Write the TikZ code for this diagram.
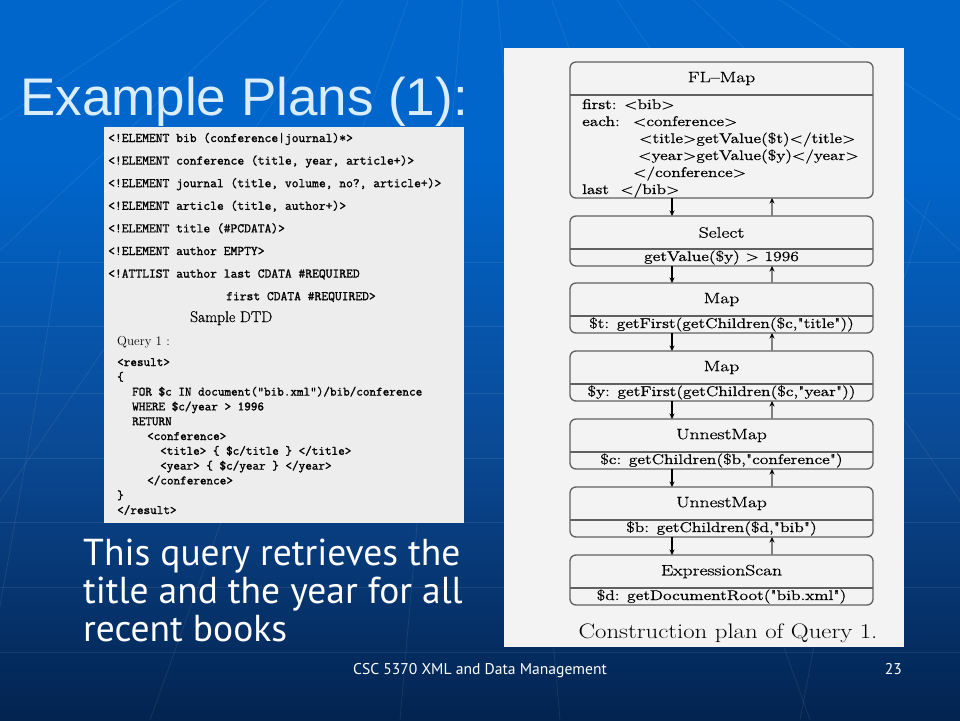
\documentclass[tikz,border=0pt]{standalone}
\usepackage{fontspec}
\newfontfamily\titlefont{Liberation Sans}
\newfontfamily\bodyfont{PT Sans}
\newfontfamily\codefont{Latin Modern Mono}[FakeBold=1.4]
\newfontfamily\planfont{Latin Modern Roman}[FakeBold=0.7]
\usetikzlibrary{positioning,arrows.meta}
\definecolor{bgtop}{HTML}{0066CC}
\definecolor{bgmid}{HTML}{0A4A96}
\definecolor{bgbot}{HTML}{03234F}
\definecolor{titlecol}{HTML}{DAEDFD}
\definecolor{leftpanel}{HTML}{EDEDED}
\definecolor{rightpanel}{HTML}{F3F3F3}
\definecolor{boxline}{HTML}{606060}
\newcommand{\plantext}[2][1.25]{\scalebox{#1}[1]{#2}}
\begin{document}
\begin{tikzpicture}[x=1pt,y=-1pt,>={Stealth[length=5.5pt,width=5pt]},line join=round,
  gridline/.style={white,opacity=0.08,line width=0.8pt},
  slidetitle/.style={anchor=base west,inner sep=0pt,font=\titlefont\fontsize{53}{60}\selectfont},
  bodytext/.style={anchor=base west,inner sep=0pt,text=white,font=\bodyfont\fontsize{37.5}{40}\selectfont},
  footer/.style={anchor=base,inner sep=0pt,text=white,font=\bodyfont\fontsize{15.6}{18}\selectfont},
  dtdline/.style={anchor=base west,inner sep=0pt,font=\codefont\fontsize{13.2}{16}\selectfont},
  codeline/.style={anchor=base west,inner sep=0pt,font=\codefont\fontsize{12.8}{15}\selectfont},
  opbox/.style={draw=boxline,line width=1.3pt,rounded corners=6pt,minimum width=303pt,inner sep=0pt,outer sep=0pt,anchor=north},
  optitle/.style={inner sep=0pt,font=\planfont\fontsize{15}{17}\selectfont},
  opbody/.style={inner sep=0pt,font=\planfont\fontsize{14}{16}\selectfont},
  dnarrow/.style={->,line width=1.1pt},
  uparrow/.style={-{Stealth[length=5.5pt,width=5pt,black]},gray,line width=1.1pt}]
% background
\useasboundingbox (0,0) rectangle (960,720);
\fill[bgtop] (0,0) rectangle (960,720);
\shade[top color=bgtop,bottom color=bgbot,middle color=bgmid] (0,160) rectangle (960,720);
\begin{scope}
\clip (0,0) rectangle (960,720);
\foreach \y in {262,326,393,458,522,587,652}
  \draw[gridline] (0,\y) -- (960,\y);
\foreach \x in {-900,-500,-150,150,400,560,810,1110,1460,1860}
  \draw[gridline] (480,-200) -- (\x,720);
\draw[gridline] (60,250) .. controls (30,450) and (0,600) .. (-20,720);
\draw[gridline] (930,200) .. controls (860,400) and (830,560) .. (800,720);
\end{scope}

% title
\node[slidetitle,text=titlecol] (title) at (20,115) {Example Plans (1):};

% left panel: DTD and query
\fill[leftpanel] (104,127) rectangle (464,523);
\node[dtdline] (dtd1) at (108,142) {<!ELEMENT bib (conference|journal)*>};
\node[dtdline] (dtd2) at (108,164.6) {<!ELEMENT conference (title, year, article+)>};
\node[dtdline] (dtd3) at (108,187.2) {<!ELEMENT journal (title, volume, no?, article+)>};
\node[dtdline] (dtd4) at (108,209.8) {<!ELEMENT article (title, author+)>};
\node[dtdline] (dtd5) at (108,232.4) {<!ELEMENT title (\#PCDATA)>};
\node[dtdline] (dtd6) at (108,255) {<!ELEMENT author EMPTY>};
\node[dtdline] (dtd7) at (108,277.6) {<!ATTLIST author last CDATA \#REQUIRED};
\node[dtdline] (dtd8) at (226,300.2) {first CDATA \#REQUIRED>};
\node[anchor=base west,inner sep=0pt,font=\planfont\fontsize{15.5}{17}\selectfont] (dtdcap) at (190,322) {Sample DTD};
\node[anchor=base west,inner sep=0pt,font=\fontsize{13}{15}\selectfont] (qcap) at (117,345) {Query 1 :};
\node[codeline] (q1) at (117,366) {<result>};
\node[codeline] (q2) at (117,380.8) {\{};
\node[codeline] (q3) at (132,395.6) {FOR \$c IN document("bib.xml")/bib/conference};
\node[codeline] (q4) at (132,410.4) {WHERE \$c/year > 1996};
\node[codeline] (q5) at (132,425.2) {RETURN};
\node[codeline] (q6) at (147,440) {<conference>};
\node[codeline] (q7) at (160,454.8) {<title> \{ \$c/title \} </title>};
\node[codeline] (q8) at (160,469.6) {<year> \{ \$c/year \} </year>};
\node[codeline] (q9) at (147,484.4) {</conference>};
\node[codeline] (q10) at (117,499.2) {\}};
\node[codeline] (q11) at (117,514) {</result>};

% text below
\node[bodytext] (txt1) at (83,565) {This query retrieves the};
\node[bodytext] (txt2) at (83,603) {title and the year for all};
\node[bodytext] (txt3) at (83,641) {recent books};

% right panel: construction plan
\fill[rightpanel] (504,48) rectangle (904,647);
\node[opbox,minimum height=136pt] (flmap) at (721.5,62) {};
\draw[boxline,line width=1.3pt] ([yshift=-33pt]flmap.north west) -- ([yshift=-33pt]flmap.north east);
\node[optitle] (flmap-t) at (721.5,78.5) {\plantext[1.3]{FL\textendash Map}};
\node[opbody,anchor=base west] (fl1) at (582,109) {\plantext{first: <bib>}};
\node[opbody,anchor=base west] (fl2) at (582,126) {\plantext{each: \ <conference>}};
\node[opbody,anchor=base west] (fl3) at (639,143) {\plantext{<title>getValue(\$t)</title>}};
\node[opbody,anchor=base west] (fl4) at (638,160) {\plantext{<year>getValue(\$y)</year>}};
\node[opbody,anchor=base west] (fl5) at (633,177) {\plantext{</conference>}};
\node[opbody,anchor=base west] (fl6) at (582,194) {\plantext{last \ </bib>}};
\foreach \nm/\tp/\ttl/\cnt in {
  select/216/Select/{getValue(\$y) > 1996},
  mapt/283/Map/{\$t: getFirst(getChildren(\$c,"title"))},
  mapy/351/Map/{\$y: getFirst(getChildren(\$c,"year"))},
  unnc/419/UnnestMap/{\$c: getChildren(\$b,"conference")},
  unnb/487/UnnestMap/{\$b: getChildren(\$d,"bib")},
  scan/555/ExpressionScan/{\$d: getDocumentRoot("bib.xml")}}
{
  \node[opbox,minimum height=50pt] (\nm) at (721.5,\tp) {};
  \draw[boxline,line width=1.3pt] ([yshift=-33pt]\nm.north west) -- ([yshift=-33pt]\nm.north east);
  \node[optitle] (\nm-t) at ([yshift=-16.5pt]\nm.north) {\plantext[1.3]{\ttl}};
  \node[opbody] (\nm-c) at ([yshift=8.5pt]\nm.south) {\plantext{\cnt}};
}
\foreach \a/\b in {flmap/select,select/mapt,mapt/mapy,mapy/unnc,unnc/unnb,unnb/scan}{
  \draw[dnarrow] ([xshift=102pt]\a.south west) -- ([xshift=102pt]\b.north west);
  \draw[uparrow] ([xshift=202pt]\b.north west) -- ([xshift=202pt]\a.south west);
}
\node[anchor=base,inner sep=0pt,font=\fontsize{21}{24}\selectfont] (plancap) at (728,638) {\plantext[1.18]{Construction plan of Query 1.}};

% footer
\node[footer] (foot) at (480,674) {CSC 5370 XML and Data Management};
\node[footer,anchor=base east] (pageno) at (902,674) {23};
\end{tikzpicture}
\end{document}
